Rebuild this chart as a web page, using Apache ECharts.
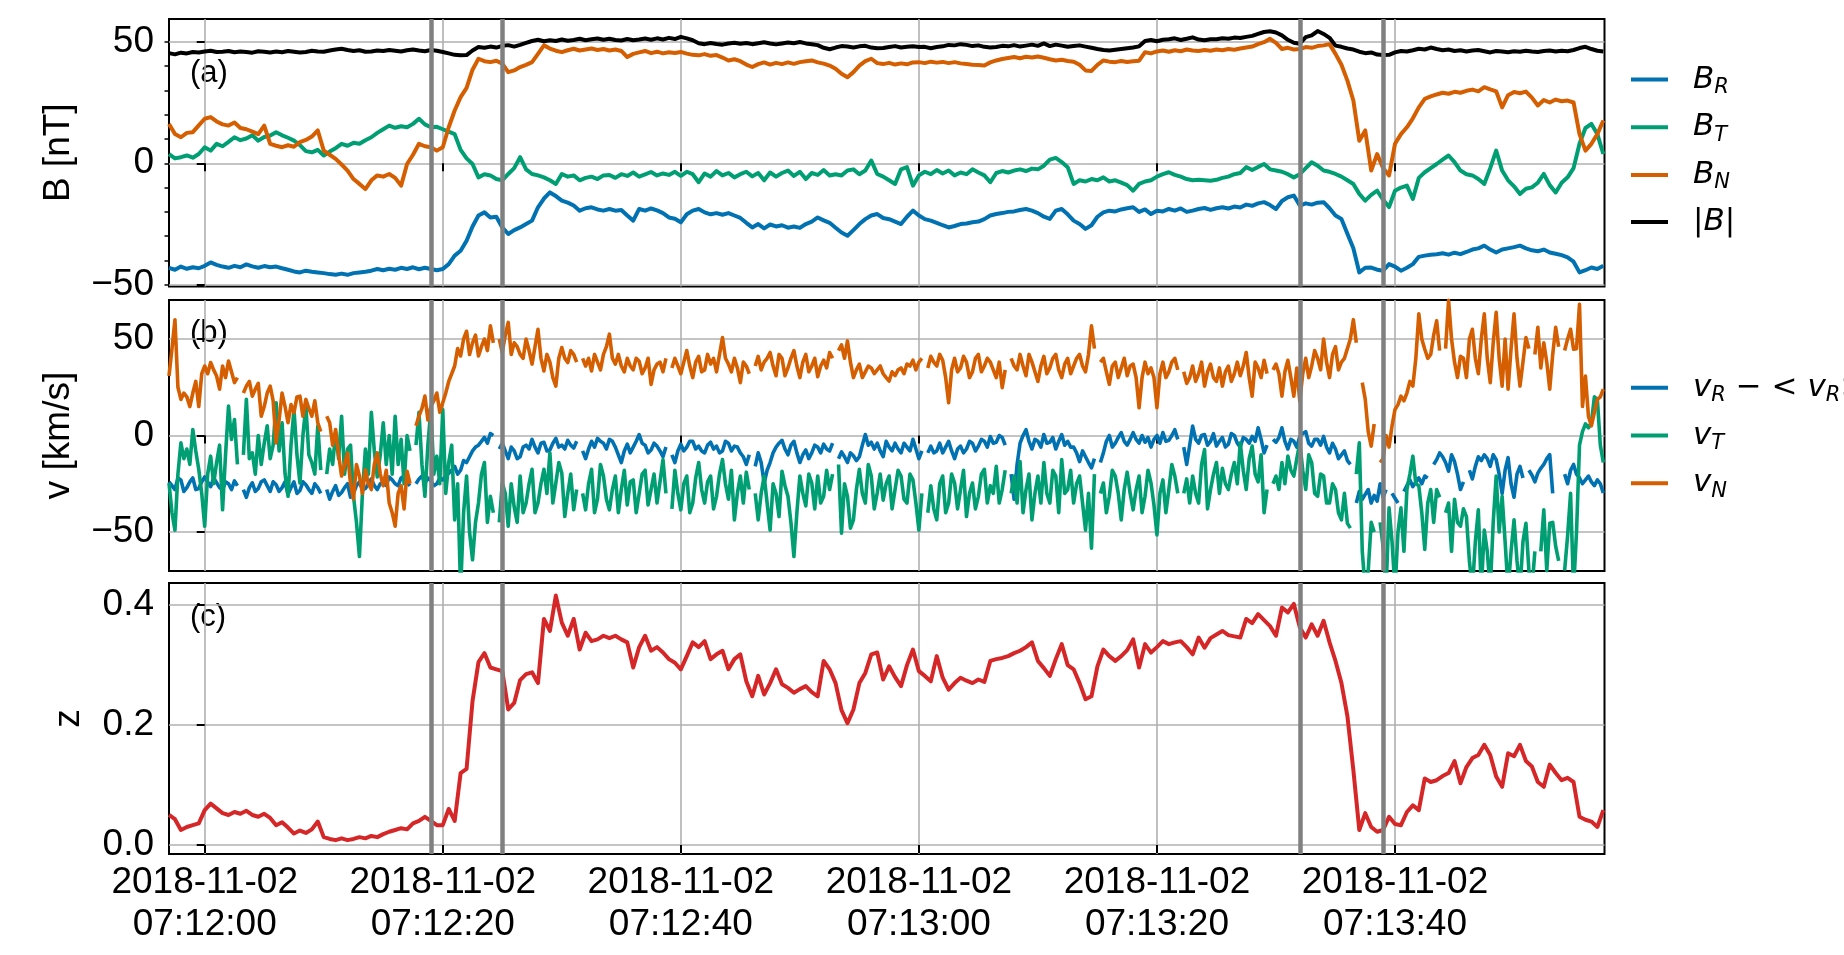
<!DOCTYPE html>
<html>
<head>
<meta charset="utf-8">
<script src="https://cdn.jsdelivr.net/npm/echarts@6/dist/echarts.min.js"></script>
<style>html,body{margin:0;padding:0;background:#fff}#c{width:1844px;height:955px}</style>
</head>
<body>
<div id="c"></div>
<script>
// ---- sampling grid: seconds relative to 2018-11-02 07:12:00 ----
const T0 = -3;      // first sample time [s]
const DT = 0.5;     // spacing of the B and z samples [s]
const DT_V = 0.25;  // spacing of the velocity samples [s] (base + mid samples)
const X_MIN = -3, X_MAX = 117.6;

const tickSeconds = [0, 20, 40, 60, 80, 100];
const tickLabels = ['2018-11-02\n07:12:00', '2018-11-02\n07:12:20', '2018-11-02\n07:12:40',
                    '2018-11-02\n07:13:00', '2018-11-02\n07:13:20', '2018-11-02\n07:13:40'];
const eventSeconds = [19, 25, 92, 99];

const yTicksB = [-50, 0, 50];
const yMinorB = [-50, -40, -30, -20, -10, 0, 10, 20, 30, 40, 50];
const yTicksV = [-50, 0, 50];
const yTicksZ = [0, 0.2, 0.4];

// ---- panel (a): magnetic field [nT] ----
const BR = [
 -43.0, -43.8, -42.5, -43.4, -42.8, -43.2,
 -42.2, -40.8, -41.8, -42.5, -43.0, -42.2, -42.8, -41.6, -42.4, -43.0, -42.3, -42.8, -42.5, -43.2, -43.8, -44.5, -44.9, -44.2, -44.6, -44.9,
 -45.2, -45.6, -45.9, -45.4, -45.9, -45.2, -44.9, -44.6, -44.2, -43.5, -44.0, -43.4, -43.8, -43.0, -43.5, -42.8, -43.6, -43.0, -43.5, -44.0,
 -43.5, -41.5, -38.0, -36.0, -31.9, -26.0, -21.5, -20.2, -22.3, -22.0, -26.4, -29.1, -27.5, -26.4, -25.0, -23.6, -18.1, -14.5, -12.0, -13.5,
 -15.4, -16.2, -17.4, -19.5, -18.5, -18.1, -19.0, -19.5, -18.8, -19.5, -19.2, -21.5, -23.6, -18.8, -19.5, -18.6, -19.4, -20.5, -22.3, -22.8,
 -24.3, -21.0, -19.5, -18.8, -20.2, -21.0, -20.5, -21.2, -20.5, -21.5, -22.5, -24.5, -26.4, -25.0, -26.8, -25.2, -26.0, -25.5, -26.5, -26.0,
 -26.6, -25.0, -24.0, -22.3, -23.5, -24.5, -26.5, -28.5, -29.8, -27.5, -25.0, -23.0, -21.5, -20.9, -22.5, -23.0, -24.0, -25.0, -22.0, -19.5,
 -21.5, -23.0, -23.6, -24.5, -25.5, -26.4, -25.8, -25.0, -24.8, -24.3, -24.0, -23.0, -21.5, -20.9, -20.5, -20.0, -19.8, -19.2, -18.8, -19.5,
 -20.5, -22.0, -22.9, -19.5, -18.8, -21.0, -23.6, -25.0, -27.0, -25.5, -22.0, -20.2, -19.5, -19.8, -19.0, -18.5, -18.1, -20.0, -19.0, -20.9,
 -19.5, -19.8, -18.8, -19.5, -18.6, -20.0, -19.5, -18.8, -18.4, -19.2, -18.5, -18.1, -18.6, -17.8, -18.2, -17.0, -17.5, -16.5, -16.0, -17.2,
 -18.8, -15.5, -14.0, -13.3, -17.4, -16.5, -17.0, -16.2, -16.0, -18.5, -21.5, -22.9, -29.0, -35.0, -44.9, -43.0, -42.9, -43.8, -44.2, -41.5,
 -42.5, -44.2, -43.0, -41.5, -38.5, -38.0, -37.6, -37.4, -37.0, -37.6, -36.8, -37.4, -36.5, -35.5, -35.0, -33.9, -35.5, -36.7, -35.5, -35.0,
 -34.5, -33.9, -35.0, -35.8, -36.2, -35.5, -36.7, -37.2, -37.8, -38.7, -40.5, -44.9, -44.0, -42.9, -43.5, -42.2
];
const BT = [
 3.8, 2.0, 2.5, 3.2, 2.3, 3.8,
 6.6, 5.2, 8.0, 7.0, 8.8, 10.7, 9.5, 10.2, 11.5, 9.3, 10.8, 11.4, 12.8, 11.5, 10.5, 9.3, 7.5, 5.0, 4.5, 5.5,
 3.2, 4.8, 6.2, 8.0, 7.2, 8.4, 8.0, 9.5, 10.7, 12.5, 14.0, 15.5, 14.6, 15.2, 14.8, 16.2, 18.3, 16.0, 14.8, 15.0,
 14.0, 13.0, 12.0, 5.5, 2.0, -0.3, -5.8, -4.5, -5.0, -6.5, -7.0, -4.4, -2.0, 2.5, -2.5, -4.4, -5.0, -5.8, -7.0, -8.5,
 -4.4, -5.5, -5.0, -7.0, -6.0, -5.5, -6.5, -5.0, -4.8, -6.0, -4.5, -5.2, -3.8, -5.5, -4.6, -3.6, -5.0, -4.2, -4.8, -3.5,
 -5.2, -3.5, -4.5, -7.8, -4.2, -5.5, -3.2, -5.0, -4.0, -5.8, -4.5, -3.5, -5.4, -4.0, -7.0, -3.8, -5.5, -4.0, -3.0, -5.2,
 -3.5, -6.5, -4.0, -4.8, -2.8, -5.0, -4.5, -5.0, -3.0, -2.5, -4.5, -3.0, 1.1, -4.4, -5.5, -7.0, -8.5, -2.5, -1.6, -9.2,
 -5.0, -3.5, -4.5, -2.8, -4.2, -3.0, -5.0, -3.8, -4.5, -2.5, -3.8, -5.0, -7.8, -4.0, -3.2, -3.8, -3.0, -2.5, -3.2, -2.2,
 -2.5, -1.0, 1.5, 2.2, 0.5, -1.6, -8.5, -7.0, -7.5, -6.5, -7.0, -5.8, -7.5, -7.0, -8.0, -9.0, -11.3, -8.5, -7.5, -7.0,
 -5.5, -4.5, -3.7, -4.8, -5.5, -6.5, -7.0, -6.8, -7.0, -7.2, -6.8, -6.0, -5.5, -4.5, -4.0, -1.6, -2.8, -1.5, -0.3, -2.5,
 -3.0, -3.5, -4.5, -5.8, -4.5, -2.0, 0.4, -1.0, -3.0, -3.5, -4.4, -5.5, -7.0, -8.5, -12.6, -15.4, -13.0, -11.3, -15.0, -18.0,
 -11.3, -10.0, -9.2, -14.7, -6.0, -3.7, -2.0, -0.3, 1.5, 3.2, 0.5, -3.0, -4.5, -5.0, -6.5, -8.5, -2.0, 5.2, -3.0, -7.0,
 -9.5, -12.6, -10.5, -9.9, -8.0, -4.4, -9.0, -12.0, -8.0, -5.8, -2.0, 8.0, 14.5, 16.2, 12.0, 3.8
];
const BN = [
 16.2, 12.0, 10.7, 12.5, 12.8, 15.6,
 18.3, 19.0, 17.2, 16.0, 15.5, 16.8, 14.5, 14.0, 13.0, 12.0, 15.5, 8.0, 7.2, 6.6, 7.4, 6.8, 8.7, 9.6, 11.0, 13.5,
 5.2, 3.5, 1.8, -0.5, -3.0, -6.5, -8.5, -10.6, -7.0, -5.0, -5.5, -4.4, -6.0, -9.2, -0.3, 3.5, 8.0, 7.0, 6.6, 5.2,
 6.6, 14.8, 21.7, 27.2, 31.0, 38.5, 43.0, 42.0, 41.6, 42.2, 41.0, 37.5, 38.2, 39.6, 40.5, 41.6, 45.0, 48.5, 47.2, 46.3,
 45.7, 46.5, 47.1, 46.4, 46.8, 47.2, 46.6, 47.0, 46.4, 46.8, 46.2, 43.7, 45.0, 45.6, 46.2, 45.3, 45.9, 45.2, 45.7, 45.4,
 45.8, 45.1, 44.6, 44.4, 44.9, 44.2, 44.5, 43.5, 42.3, 42.8, 42.0, 40.6, 39.6, 40.8, 41.5, 40.6, 41.3, 40.8, 41.5, 40.9,
 41.6, 42.0, 42.3, 41.5, 41.0, 40.2, 38.9, 36.8, 35.4, 37.5, 40.2, 42.0, 43.0, 41.2, 40.8, 41.3, 40.6, 41.1, 40.7, 41.5,
 41.6, 41.2, 41.8, 41.4, 41.7, 41.2, 41.6, 41.1, 40.8, 40.5, 40.4, 40.2, 41.5, 42.3, 42.9, 43.3, 43.7, 43.2, 43.8, 43.5,
 43.9, 43.4, 42.8, 42.3, 42.6, 42.1, 41.8, 40.5, 38.2, 38.0, 40.5, 42.3, 41.8, 41.6, 42.1, 41.7, 42.0, 42.2, 45.7, 45.2,
 46.0, 46.4, 45.9, 46.5, 46.1, 46.8, 46.4, 46.2, 46.6, 46.3, 46.8, 46.5, 47.0, 46.7, 47.2, 47.6, 48.0, 49.0, 49.8, 51.2,
 49.5, 47.0, 47.5, 46.8, 47.0, 47.8, 47.5, 48.2, 48.5, 49.0, 45.0, 40.5, 34.0, 25.8, 9.3, 13.5, -3.0, 3.8, -2.0, -5.0,
 8.0, 12.0, 14.8, 18.5, 23.0, 26.5, 27.5, 28.3, 29.0, 28.6, 29.4, 29.0, 29.8, 30.3, 29.6, 31.3, 30.4, 29.6, 23.0, 28.0,
 29.3, 28.8, 29.5, 27.0, 23.8, 26.0, 25.0, 26.2, 25.5, 25.8, 25.0, 12.0, 5.2, 8.0, 12.0, 17.6
];
const Bmag = [
 45.3, 44.8, 45.5, 45.2, 45.8, 45.6,
 46.0, 46.3, 45.8, 45.9, 46.2, 45.7, 46.0, 45.8, 45.5, 46.1, 45.9, 45.6, 46.0, 45.7, 46.2, 45.9, 45.6, 45.8, 46.3, 46.0,
 45.9, 46.4, 46.8, 47.1, 46.6, 46.2, 46.5, 45.9, 46.0, 46.4, 46.2, 46.6, 46.3, 46.0, 46.5, 46.8, 46.4, 46.1, 46.6, 46.3,
 45.8, 45.2, 44.6, 44.4, 44.5, 46.4, 47.8, 47.5, 48.0, 47.6, 48.3, 48.6, 48.0, 48.7, 49.5, 50.3, 50.8, 50.2, 50.6, 50.3,
 50.9, 50.4, 50.7, 51.2, 50.6, 51.0, 51.3, 50.8, 51.2, 50.7, 50.5, 51.1, 50.6, 50.9, 51.3, 50.8, 51.4, 50.9, 51.6, 51.1,
 52.0, 51.4, 50.6, 49.4, 49.0, 49.5, 49.1, 48.8, 49.3, 49.6, 49.2, 49.5, 49.0, 49.4, 49.8, 49.3, 48.9, 49.3, 49.7, 49.4,
 49.9, 49.3, 49.0, 48.6, 47.5, 46.9, 47.6, 48.2, 48.0, 47.6, 48.1, 48.3, 47.6, 47.3, 47.4, 47.8, 48.2, 47.6, 47.9, 48.1,
 47.8, 47.9, 47.3, 47.8, 48.1, 48.7, 48.5, 49.0, 48.7, 48.2, 48.5, 47.9, 47.6, 47.8, 48.3, 48.1, 48.6, 48.0, 48.4, 48.8,
 48.3, 49.3, 48.2, 48.8, 48.4, 47.9, 48.2, 48.5, 48.0, 47.5, 47.0, 46.6, 46.4, 46.7, 47.0, 47.3, 47.6, 48.1, 50.3, 50.7,
 50.2, 50.8, 51.0, 51.4, 50.7, 51.2, 51.8, 50.9, 50.6, 51.0, 51.0, 51.4, 51.2, 51.7, 51.5, 52.0, 52.4, 53.2, 54.0, 54.3,
 53.8, 52.6, 50.8, 49.6, 49.2, 51.9, 52.6, 54.4, 53.2, 51.6, 48.4, 47.9, 47.2, 46.8, 45.9, 45.3, 45.6, 44.7, 44.5, 44.6,
 45.6, 46.2, 46.0, 46.5, 47.1, 46.8, 47.6, 47.0, 46.5, 46.8, 46.2, 46.5, 46.0, 46.4, 46.6, 46.1, 45.6, 46.2, 46.0, 45.7,
 46.1, 45.9, 46.3, 46.0, 45.8, 46.2, 46.4, 46.0, 46.3, 46.1, 46.6, 47.4, 47.9, 47.0, 46.3, 46.0
];

// ---- panel (b): velocity [km/s]; base samples every 0.5 s, mid samples 0.25 s later; null = data gap ----
const vR = [
 -24.0, -28.0, -23.0, -27.0, -22.0, -27.5,
 -21.5, -26.5, -24.5, -28.0, -25.0, -23.5, null, -32.0, -24.5, -27.5, -23.0, -29.0, -25.5, -27.0, -30.5, -24.0, -28.5, -25.5, -30.0, -27.0,
 null, -33.0, -26.0, -29.5, -25.0, -30.0, -24.0, -27.5, -22.5, -28.0, -24.0, -21.5, -25.0, -22.0, -24.5, null, -22.5, -24.5, -23.5, -25.0,
 -23.0, -19.5, -16.0, -18.0, -14.0, -8.0, -5.0, -1.0, 1.0, null, -4.0, -12.0, -8.0, -11.0, -5.0, -2.0, -9.0, -3.5, -7.5, -1.5,
 -5.0, -2.5, -6.5, null, -12.0, -3.0, -1.5, -4.0, -2.0, -6.0, -14.0, -4.5, -6.0, 0.5, -5.0, -7.5, -5.5, -11.0, null, -14.0,
 -4.5, -6.0, -3.0, -5.5, -9.0, -3.5, -5.5, -8.0, -4.0, -5.5, -9.0, -15.0, null, -9.0, -24.6, -14.0, -6.0, -2.5, -10.0, -3.0,
 -14.0, -7.5, -9.0, -6.0, -4.5, -8.0, null, -8.5, -14.0, -10.5, -11.0, 0.5, -3.5, -4.0, -11.0, -6.0, -4.0, -9.0, -6.0, -2.0,
 -12.0, null, -5.5, -8.0, -9.0, -3.0, -12.0, -5.5, -7.0, -4.0, -5.5, -3.0, -0.5, -3.5, -1.0, null, -33.0, -4.0, 3.0, -7.0,
 -3.0, 0.5, -3.5, -7.0, 0.5, -3.0, -6.0, -13.5, -11.0, -16.8, null, -9.0, 0.0, -4.0, 1.5, -5.0, 1.5, -4.0, -3.5, -6.0,
 0.0, 1.5, -2.5, 3.0, null, -15.0, 4.9, -4.0, 0.5, -3.0, -5.5, -1.0, -4.5, 0.0, -6.0, -2.0, -0.5, 4.0, -9.0, null,
 -3.5, 4.0, -7.0, -3.0, -0.5, 2.0, -5.5, -2.0, -0.5, -9.0, -7.0, -10.0, -13.0, null, -29.0, -30.5, -35.0, -34.0, -32.0, null,
 -32.5, null, -26.0, -26.5, -22.0, -21.0, null, -12.5, -11.0, -18.5, -13.5, -28.0, null, -22.5, -11.0, -10.0, -16.0, -12.5, -30.0, -11.5,
 -32.0, -16.0, null, -20.5, -19.5, -15.0, -9.9, null, null, -25.0, -15.0, -22.0, -23.0, -24.0, -23.0, -29.8
];
const vRmid = [
 -26.0, -22.0, -29.0, -24.0, -28.0, -24.0,
 -24.0, -22.0, -27.0, -24.0, -28.0, -26.0, -28.0, -27.0, -29.0, -24.0, -26.0, -24.0, -29.0, -24.0, -27.0, -30.0, -24.0, -28.0, -25.0, -30.0,
 -28.0, -29.0, -31.0, -27.0, -32.0, -26.0, -28.0, -25.0, -26.0, -25.0, -26.0, -23.0, -26.0, -21.0, -26.0, -25.0, -21.0, -22.0, -26.0, -22.0,
 -21.0, -18.0, -20.0, -13.0, -11.0, -6.0, -3.0, -4.0, 0.0, -7.0, -8.0, -6.0, -12.0, -6.0, -7.0, -6.0, -4.0, -8.0, -4.0, -6.0,
 -7.0, -5.0, -3.0, -8.0, -7.0, -6.0, -3.0, -7.0, -3.0, -10.0, -8.0, -9.0, -3.0, -4.0, -9.0, -4.0, -8.0, -6.0, -10.0, -8.0,
 -8.0, -3.0, -7.0, -8.0, -5.0, -7.0, -9.0, -3.0, -8.0, -6.0, -11.0, -10.0, -16.0, -14.0, -18.0, -9.0, -4.0, -7.0, -5.0, -9.0,
 -10.0, -12.0, -5.0, -9.0, -7.0, -4.0, -12.0, -11.0, -9.0, -13.0, -5.0, -5.0, -7.0, -8.0, -3.0, -8.0, -7.0, -4.0, -8.0, -7.0,
 -8.0, -9.0, -9.0, -4.0, -6.0, -8.0, -7.0, -9.0, -3.0, -8.0, -2.0, -6.0, -4.0, 0.0, -5.0, -20.0, -15.0, 0.0, -3.0, -2.0,
 -6.0, -4.0, -1.0, -3.0, -5.0, -6.0, -9.0, -8.0, -14.0, -12.0, -14.0, -3.0, -6.0, -1.0, -3.0, -2.0, -2.0, 0.0, -1.0, -2.0,
 -4.0, -3.0, 0.0, -2.0, -6.0, -5.0, -2.0, 0.0, -5.0, 1.0, -3.0, -6.0, 1.0, -4.0, -1.0, -4.0, -3.0, -2.0, -5.0, -2.0,
 -1.0, -3.0, -2.0, -6.0, 1.0, -4.0, -2.0, -5.0, -6.0, -4.0, -12.0, -8.0, -15.0, -35.0, -33.0, -28.0, -31.0, -25.0, -28.0, -30.0,
 -35.0, -29.0, -23.0, -24.0, -25.0, -22.0, -15.0, -9.0, -14.0, -10.0, -20.0, -24.0, -18.0, -16.0, -13.0, -12.0, -10.0, -20.0, -18.0, -25.0,
 -20.0, -22.0, -18.0, -24.0, -17.0, -12.0, -30.0, null, -20.0, -18.0, -20.0, -25.0, -21.0, -26.0, -25.0
];
const vT = [
 -24.6, -49.0, -3.8, -7.0, 3.1, -17.5,
 -47.0, -10.7, -14.0, -38.5, 15.2, 8.3, null, 18.7, -9.0, 0.0, -4.0, -12.0, 17.0, 6.6, -31.5, 13.5, -24.6, 15.2, -14.0, 5.0,
 null, -7.0, 1.5, 10.0, -7.0, -31.5, -62.7, -7.0, 12.0, -21.5, 6.6, 0.0, 10.0, -2.0, 0.0, null, 12.0, -31.5, 13.5, -10.7,
 13.5, -14.0, -43.7, -80.0, -21.0, -64.4, -35.0, -14.0, -31.5, null, -24.6, -47.0, -37.0, -21.0, -35.0, -17.5, -35.0, -17.5, -9.0, -24.6,
 -19.5, -30.0, -38.5, null, -38.5, -17.5, -33.0, -21.0, -38.5, -21.0, -28.0, -36.0, -23.0, -30.0, -18.0, -28.0, -35.0, -12.5, null, -18.0,
 -38.5, -21.0, -35.0, -14.0, -35.0, -21.0, -31.5, -12.5, -33.0, -43.7, -21.0, -19.0, null, -43.7, -21.0, -49.0, -30.0, -18.5, -31.5, -62.7,
 -21.0, -36.5, -24.6, -21.0, -31.5, -28.0, null, -50.6, -31.5, -43.7, -17.5, -35.0, -21.0, -29.8, -33.5, -21.0, -28.0, -21.0, -35.0, -23.0,
 -49.0, null, -26.0, -43.7, -21.0, -35.0, -24.6, -28.0, -42.0, -24.6, -31.5, -17.5, -26.0, -16.0, -28.0, null, -21.0, -13.5, -28.0, -43.7,
 -21.0, -14.0, -35.0, -21.0, -12.5, -28.0, -35.0, -21.0, -49.0, -58.4, null, -24.6, -31.5, -21.0, -43.7, -19.0, -38.5, -21.0, -31.5, -24.6,
 -51.5, -23.0, -28.0, -21.0, null, -22.5, -21.0, -35.0, -7.3, -28.0, -14.0, -17.0, -28.0, -14.0, -3.8, -28.0, -5.5, -24.0, -40.0, null,
 -21.0, -14.0, -10.7, -21.0, -3.8, -28.0, -14.0, -31.5, -21.0, -35.0, -28.0, -43.7, -45.5, null, -3.8, -80.0, -45.0, null, -57.5, -37.5,
 -80.0, -37.5, -28.0, -10.7, -26.0, -59.0, -28.0, -28.0, null, -35.0, -33.0, -47.0, -42.0, -80.0, -38.5, -49.0, -80.0, -21.0, -31.5, -80.0,
 -43.7, -80.0, -45.5, -80.0, null, -38.5, -45.5, -57.5, null, -52.0, -80.0, -5.0, 6.0, 6.6, 18.7, -14.0
];
const vTmid = [
 -40.0, -20.0, -12.0, -15.0, -8.0, -30.0,
 -20.0, -25.0, -5.0, -10.0, -2.0, -15.0, -10.0, -12.0, -20.0, -15.0, 5.0, -5.0, -8.0, -20.0, -5.0, -10.0, 0.0, -10.0, -20.0, -18.0,
 -20.0, -15.0, -12.0, -20.0, -5.0, -45.0, -30.0, -20.0, -8.0, -10.0, -15.0, -20.0, -15.0, -25.0, -8.0, -5.0, -15.0, -5.0, -20.0, -25.0,
 -30.0, -5.0, -25.0, -40.0, -50.0, -45.0, -20.0, -45.0, -40.0, -45.0, -30.0, -25.0, -45.0, -40.0, -25.0, -40.0, -25.0, -30.0, -35.0, -14.0,
 -42.0, -20.0, -28.0, -30.0, -25.0, -40.0, -15.0, -33.0, -28.0, -40.0, -18.0, -24.0, -40.0, -20.0, -36.0, -20.0, -24.0, -30.0, -38.0, -30.0,
 -25.0, -40.0, -22.0, -28.0, -24.0, -38.0, -20.0, -25.0, -18.0, -30.0, -35.0, -28.0, -30.0, -30.0, -35.0, -25.0, -42.0, -26.0, -45.0, -40.0,
 -30.0, -20.0, -38.0, -35.0, -18.0, -20.0, -15.0, -25.0, -48.0, -28.0, -30.0, -15.0, -38.0, -20.0, -25.0, -38.0, -18.0, -33.0, -20.0, -35.0,
 -30.0, -40.0, -38.0, -25.0, -40.0, -20.0, -38.0, -18.0, -30.0, -38.0, -20.0, -35.0, -30.0, -35.0, -18.0, -30.0, -35.0, -40.0, -20.0, -30.0,
 -35.0, -30.0, -18.0, -40.0, -30.0, -18.0, -25.0, -35.0, -30.0, -20.0, -30.0, -40.0, -18.0, -30.0, -28.0, -30.0, -28.0, -40.0, -18.0, -36.0,
 -30.0, -40.0, -15.0, -30.0, -30.0, -35.0, -30.0, -15.0, -38.0, -20.0, -30.0, -25.0, -20.0, -25.0, -18.0, -12.0, -20.0, -10.0, -28.0, -25.0,
 -28.0, -25.0, -18.0, -12.0, -18.0, -10.0, -30.0, -20.0, -35.0, -25.0, -40.0, -30.0, -48.0, -20.0, -60.0, -70.0, -50.0, -45.0, -80.0, -55.0,
 -50.0, -60.0, -20.0, -25.0, -40.0, -35.0, -45.0, -32.0, -40.0, -60.0, -45.0, -38.0, -65.0, -55.0, -80.0, -60.0, -45.0, -50.0, -55.0, -60.0,
 -65.0, -55.0, -70.0, -60.0, -60.0, -70.0, -45.0, -65.0, -70.0, -30.0, -50.0, 2.0, 4.0, 20.0, -5.0
];
const vN = [
 30.8, 60.0, 18.7, 20.0, 22.0, 15.0,
 36.0, 37.8, 30.8, 36.0, 38.6, 27.4, null, 25.6, 20.4, 27.0, 15.0, 25.6, -3.8, 22.0, 6.6, 11.8, 20.4, 18.7, 10.0, 6.6,
 null, 6.6, 3.1, -21.0, -9.0, -33.0, -21.0, -17.7, -28.0, -9.0, -26.0, -35.0, -47.0, -26.0, -18.5, null, 10.0, 20.4, 15.0, 22.0,
 17.0, 28.0, 36.0, 41.2, 54.0, 48.0, 41.2, 50.0, 56.8, null, 43.0, 58.6, 48.0, 42.0, 50.0, 37.0, 55.0, 33.4, 38.0, 25.6,
 45.6, 37.8, 42.0, null, 36.0, 33.4, 38.0, 42.0, 52.5, 37.0, 36.0, 40.0, 34.0, 38.5, 35.0, 26.5, 37.0, 33.0, null, 40.0,
 32.0, 44.0, 30.0, 41.0, 34.0, 37.0, 33.0, 50.8, 37.0, 40.0, 27.4, 36.0, null, 41.0, 38.0, 43.0, 31.0, 40.0, 35.0, 44.0,
 30.0, 42.0, 36.0, 30.5, 39.0, 43.0, null, 47.0, 49.0, 30.0, 37.0, 33.0, 35.0, 34.0, 32.0, 28.2, 31.0, 35.0, 37.0, 39.0,
 38.0, null, 41.0, 36.0, 39.0, 17.0, 40.0, 35.0, 38.0, 33.0, 42.0, 36.0, 38.0, 30.0, 24.8, null, 36.0, 42.0, 31.0, 38.0,
 28.0, 41.0, 35.0, 42.0, 30.0, 40.0, 36.0, 42.0, 33.0, 56.8, null, 40.0, 26.5, 38.0, 35.0, 31.0, 37.0, 14.4, 38.0, 35.0,
 14.4, 38.0, 33.0, 40.0, null, 27.0, 36.0, 32.0, 25.6, 37.0, 28.0, 25.6, 36.0, 32.0, 31.0, 43.0, 20.4, 35.0, 39.0, null,
 37.0, 20.4, 39.0, 20.4, 17.8, 40.0, 36.0, 40.0, 50.0, 30.0, 46.0, 38.0, 45.0, 60.0, null, 18.7, -5.5, null, -12.0, -6.0,
 13.5, 20.4, 22.0, 25.6, 63.0, 44.7, 42.0, 59.4, null, 70.0, 38.0, 41.0, 30.0, 55.0, 32.0, 63.0, 27.4, 63.8, 25.6, 24.0,
 63.0, 25.6, 50.8, null, 56.0, 48.0, 24.0, 56.0, null, 50.0, 44.7, 68.0, 30.8, 5.0, 18.7, 24.0
];
const vNmid = [
 45.0, 25.0, 22.0, 15.0, 28.0, 32.0,
 32.0, 34.0, 24.0, 30.0, 33.0, 30.0, 22.0, 28.0, 24.0, 10.0, 22.0, 18.0, 8.0, 15.0, 16.0, 20.0, 10.0, 14.0, 18.0, 2.0,
 10.0, -5.0, -10.0, -15.0, -25.0, -15.0, -30.0, -25.0, -15.0, -20.0, -18.0, -40.0, -30.0, -38.0, -25.0, 5.0, 14.0, 8.0, 18.0, 12.0,
 22.0, 32.0, 45.0, 50.0, 42.0, 52.0, 46.0, 44.0, 48.0, 50.0, 52.0, 42.0, 46.0, 40.0, 44.0, 46.0, 40.0, 42.0, 30.0, 40.0,
 40.0, 44.0, 38.0, 40.0, 40.0, 42.0, 34.0, 46.0, 40.0, 42.0, 33.0, 36.0, 40.0, 32.0, 40.0, 34.0, 38.0, 40.0, 35.0, 36.0,
 38.0, 36.0, 38.0, 33.0, 42.0, 40.0, 42.0, 40.0, 33.0, 35.0, 38.0, 32.0, 36.0, 34.0, 40.0, 36.0, 42.0, 31.0, 40.0, 36.0,
 38.0, 33.0, 40.0, 36.0, 35.0, 40.0, 44.0, 40.0, 38.0, 34.0, 30.0, 36.0, 32.0, 36.0, 30.0, 33.0, 34.0, 32.0, 36.0, 34.0,
 40.0, 35.0, 38.0, 42.0, 30.0, 34.0, 33.0, 41.0, 30.0, 40.0, 33.0, 40.0, 34.0, 38.0, 34.0, 40.0, 34.0, 36.0, 42.0, 33.0,
 36.0, 32.0, 40.0, 34.0, 37.0, 32.0, 40.0, 36.0, 42.0, 45.0, 38.0, 33.0, 36.0, 30.0, 40.0, 36.0, 30.0, 30.0, 32.0, 30.0,
 32.0, 30.0, 38.0, 34.0, 33.0, 30.0, 28.0, 38.0, 33.0, 30.0, 35.0, 33.0, 28.0, 38.0, 36.0, 30.0, 38.0, 30.0, 32.0, 34.0,
 32.0, 33.0, 30.0, 35.0, 32.0, 30.0, 44.0, 34.0, 38.0, 42.0, 34.0, 40.0, 50.0, 48.0, 27.4, 2.0, 6.0, -14.0, 0.0, 5.0,
 16.0, 18.0, 28.0, 40.0, 50.0, 40.0, 52.0, 44.0, 45.0, 50.0, 30.0, 40.0, 50.0, 40.0, 50.0, 40.0, 48.0, 40.0, 50.0, 45.0,
 40.0, 38.0, 45.0, 42.0, 35.0, 38.0, 42.0, 46.0, 44.0, 55.0, 45.0, 15.0, 10.0, 12.0, 20.0
];

// ---- panel (c): z ----
const zVal = [
 0.050, 0.043, 0.025, 0.030, 0.033, 0.036,
 0.058, 0.069, 0.061, 0.053, 0.050, 0.055, 0.052, 0.057, 0.050, 0.047, 0.052, 0.045, 0.033, 0.038, 0.029, 0.019, 0.024, 0.020, 0.026, 0.039,
 0.013, 0.010, 0.008, 0.011, 0.008, 0.010, 0.013, 0.011, 0.015, 0.013, 0.018, 0.022, 0.025, 0.028, 0.026, 0.036, 0.040, 0.047, 0.040, 0.033,
 0.033, 0.060, 0.040, 0.120, 0.127, 0.240, 0.305, 0.320, 0.296, 0.293, 0.290, 0.226, 0.237, 0.275, 0.285, 0.288, 0.270, 0.377, 0.357, 0.416,
 0.371, 0.349, 0.377, 0.326, 0.354, 0.340, 0.343, 0.349, 0.345, 0.349, 0.343, 0.338, 0.296, 0.330, 0.349, 0.324, 0.330, 0.321, 0.310, 0.304,
 0.293, 0.315, 0.338, 0.330, 0.340, 0.310, 0.318, 0.324, 0.293, 0.310, 0.318, 0.273, 0.248, 0.282, 0.251, 0.270, 0.293, 0.268, 0.262, 0.254,
 0.260, 0.265, 0.255, 0.248, 0.307, 0.293, 0.270, 0.225, 0.203, 0.226, 0.270, 0.287, 0.318, 0.321, 0.276, 0.298, 0.280, 0.265, 0.300, 0.326,
 0.290, 0.282, 0.273, 0.315, 0.279, 0.259, 0.270, 0.279, 0.274, 0.270, 0.276, 0.272, 0.307, 0.310, 0.312, 0.315, 0.320, 0.324, 0.330, 0.338,
 0.307, 0.295, 0.282, 0.310, 0.335, 0.300, 0.293, 0.270, 0.243, 0.248, 0.298, 0.326, 0.315, 0.307, 0.315, 0.325, 0.343, 0.296, 0.335, 0.321,
 0.330, 0.340, 0.335, 0.338, 0.340, 0.330, 0.318, 0.346, 0.329, 0.345, 0.351, 0.357, 0.350, 0.348, 0.346, 0.377, 0.370, 0.385, 0.375, 0.365,
 0.349, 0.396, 0.388, 0.402, 0.363, 0.346, 0.368, 0.349, 0.374, 0.338, 0.307, 0.270, 0.215, 0.125, 0.025, 0.053, 0.030, 0.022, 0.025, 0.047,
 0.035, 0.033, 0.055, 0.066, 0.058, 0.111, 0.105, 0.108, 0.115, 0.120, 0.140, 0.103, 0.130, 0.145, 0.150, 0.167, 0.150, 0.114, 0.097, 0.153,
 0.148, 0.167, 0.140, 0.131, 0.105, 0.097, 0.134, 0.120, 0.108, 0.112, 0.105, 0.047, 0.042, 0.039, 0.030, 0.058
];

// ---- styling ----
const FONT = '"Liberation Sans", Arial, Helvetica, sans-serif';
const MATH = '"DejaVu Sans", sans-serif';
const C = { BR: '#0072B2', BT: '#009E73', BN: '#D55E00', Bmag: '#000000', z: '#D62728' };
const GRID_COLOR = '#b0b0b0';

function pts(arr, dt) { return arr.map((v, i) => [T0 + i * dt, v === null ? '-' : v]); }
function merge(base, mid) {  // base sample, then the sample 0.25 s later
  const out = [];
  base.forEach((v, i) => { out.push(v); if (i < mid.length) out.push(mid[i]); });
  return out;
}
function minusFmt(v) { return v < 0 ? '\u2212' + Math.abs(v) : String(v); }

const grids = [
  { left: 169, top: 19, width: 1435.5, height: 267.5 },
  { left: 169, top: 300, width: 1435.5, height: 271 },
  { left: 169, top: 583, width: 1435.5, height: 271 }
].map(g => Object.assign(g, { show: true, borderColor: '#000', borderWidth: 2, backgroundColor: 'transparent', outerBoundsMode: 'none' }));

const tickStyle = { color: '#000', width: 2 };
const labelBase = { color: '#000', fontSize: 37, fontFamily: FONT };

const xAxes = [0, 1, 2].map(i => ({
  type: 'value', gridIndex: i, min: X_MIN, max: X_MAX,
  axisLine: { show: false },
  axisTick: { show: true, customValues: tickSeconds, length: 8, lineStyle: tickStyle },
  axisLabel: Object.assign({ show: i === 2, customValues: tickSeconds, margin: 8, lineHeight: 42,
    formatter: v => tickLabels[tickSeconds.indexOf(v)] || '' }, labelBase),
  splitLine: { show: true, lineStyle: { color: GRID_COLOR, width: 1.6 } }
}));

function yAxis(gi, min, max, ticks, fmt, name, gap) {
  return {
    type: 'value', gridIndex: gi, position: 'left', min, max,
    axisLine: { show: false },
    axisTick: { show: true, customValues: ticks, length: 8, lineStyle: tickStyle },
    axisLabel: Object.assign({ customValues: ticks, margin: 15, formatter: fmt }, labelBase),
    splitLine: { show: true, lineStyle: { color: GRID_COLOR, width: 1.6 } },
    name, nameLocation: 'middle', nameGap: gap, nameRotate: 90,
    nameTextStyle: { color: '#000', fontSize: 37, fontFamily: FONT }
  };
}
const yAxes = [
  yAxis(0, -50.7, 59.35, yTicksB, minusFmt, 'B [nT]', 92),
  { type: 'value', gridIndex: 0, position: 'left', min: -50.7, max: 59.35,
    axisLine: { show: false }, axisLabel: { show: false }, splitLine: { show: false },
    axisTick: { show: true, customValues: yMinorB, length: 4.5, lineStyle: { color: '#000', width: 1.5 } } },
  yAxis(1, -70.2, 70.2, yTicksV, minusFmt, 'v [km/s]', 92),
  yAxis(2, -0.0151, 0.437, yTicksZ, v => v.toFixed(1), 'z', 82)
];

function line(name, data, color, xi, yi, width, extra) {
  return Object.assign({
    type: 'line', name, data, xAxisIndex: xi, yAxisIndex: yi,
    showSymbol: false, symbol: 'none', connectNulls: false, clip: true,
    lineStyle: { color, width, join: 'round' }, itemStyle: { color },
    emphasis: { disabled: true }, animation: false
  }, extra || {});
}
function events() {
  return { markLine: { silent: true, symbol: ['none', 'none'], label: { show: false }, animation: false,
    lineStyle: { color: '#808080', width: 4.5, type: 'solid' },
    emphasis: { disabled: true },
    data: eventSeconds.map(s => ({ xAxis: s })) } };
}

const series = [
  line('BR', pts(BR, DT), C.BR, 0, 0, 4),
  line('BT', pts(BT, DT), C.BT, 0, 0, 4),
  line('BN', pts(BN, DT), C.BN, 0, 0, 4),
  line('Bmag', pts(Bmag, DT), C.Bmag, 0, 0, 4, events()),
  line('vR', pts(merge(vR, vRmid), DT_V), C.BR, 1, 2, 3.6),
  line('vT', pts(merge(vT, vTmid), DT_V), C.BT, 1, 2, 3.6),
  line('vN', pts(merge(vN, vNmid), DT_V), C.BN, 1, 2, 3.6, events()),
  line('z', pts(zVal, DT), C.z, 2, 3, 4, events())
];

const legendText = {
  BR: '{g| }{m|B}{s|R}', BT: '{g| }{m|B}{s|T}', BN: '{g| }{m|B}{s|N}', Bmag: '{g| }{n||}{m|B}{n||}',
  vR: '{g| }{m|v}{s|R}{n| \u2212 < }{m|v}{s|R}{n|>}', vT: '{g| }{m|v}{s|T}', vN: '{g| }{m|v}{s|N}'
};
const rich = {
  g: { width: 20, fontSize: 10, lineHeight: 36 },
  m: { fontFamily: MATH, fontStyle: 'italic', fontSize: 31, lineHeight: 36, color: '#000' },
  s: { fontFamily: MATH, fontStyle: 'italic', fontSize: 21, lineHeight: 20, padding: [16, 0, 0, 0], color: '#000' },
  n: { fontFamily: MATH, fontSize: 31, lineHeight: 36, color: '#000' }
};
function legend(top, names) {
  return { orient: 'vertical', left: 1631, top, padding: 0, itemGap: 10.7, itemWidth: 37, itemHeight: 4,
    icon: 'rect', selectedMode: false, data: names,
    formatter: n => legendText[n], textStyle: { rich, lineHeight: 36 } };
}

const panelLabels = [
  { text: '(a)', x: 190, y: 58 }, { text: '(b)', x: 190, y: 318 }, { text: '(c)', x: 190, y: 602 }
];

const chart = echarts.init(document.getElementById('c'), null, { renderer: 'canvas' });
chart.setOption({
  animation: false,
  backgroundColor: '#fff',
  grid: grids,
  xAxis: xAxes,
  yAxis: yAxes,
  legend: [legend(61, ['BR', 'BT', 'BN', 'Bmag']), legend(369.3, ['vR', 'vT', 'vN'])],
  graphic: panelLabels.map(p => ({ type: 'text', left: p.x, top: p.y, silent: true,
    style: { text: p.text, fill: '#000', font: '31px ' + FONT } })),
  series
});
</script>
</body>
</html>
